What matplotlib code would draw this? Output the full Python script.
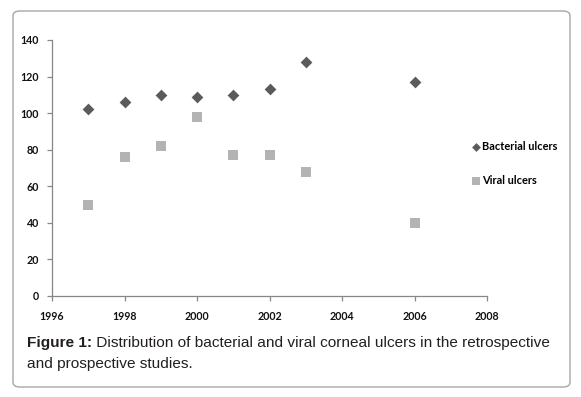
import matplotlib
matplotlib.use("Agg")
import matplotlib.pyplot as plt
from matplotlib.patches import FancyBboxPatch

years_bacterial = [1997, 1998, 1999, 2000, 2001, 2002, 2003, 2006]
bacterial = [102, 106, 110, 109, 110, 113, 128, 117]
years_viral = [1997, 1998, 1999, 2000, 2001, 2002, 2003, 2006]
viral = [50, 76, 82, 98, 77, 77, 68, 40]
x_ticks = [1996, 1998, 2000, 2002, 2004, 2006, 2008]
y_ticks = [0, 20, 40, 60, 80, 100, 120, 140]
caption_bold = "Figure 1:"
caption_rest = " Distribution of bacterial and viral corneal ulcers in the retrospective"
caption_line2 = "and prospective studies."

W, H = 581, 397
fig = plt.figure(figsize=(W / 100, H / 100), dpi=100)

# rounded frame
frame = FancyBboxPatch((13 / W, 10 / H), (570 - 13) / W, (386 - 10) / H,
                       boxstyle="round,pad=0,rounding_size=0.012",
                       transform=fig.transFigure, facecolor="none",
                       edgecolor="#a6a6a6", linewidth=1.0, zorder=-1)
fig.patches.append(frame)

ax = fig.add_axes([52 / W, 1 - 296 / H, (487 - 52) / W, (296 - 40) / H])
ax.set_facecolor("none")
ax.scatter(years_bacterial, bacterial, marker="D", s=36, color="#5b5b5b",
           label="Bacterial ulcers", zorder=3, linewidths=0)
ax.scatter(years_viral, viral, marker="s", s=62, color="#b3b3b3",
           label="Viral ulcers", zorder=3, linewidths=0)

ax.set_xlim(1996, 2008)
ax.set_ylim(0, 140)
ax.set_xticks(x_ticks)
ax.set_yticks(y_ticks)
for s in ["top", "right"]:
    ax.spines[s].set_visible(False)
for s in ["left", "bottom"]:
    ax.spines[s].set_color("#878787")
    ax.spines[s].set_linewidth(0.9)
ax.tick_params(axis="both", direction="out", length=3.5, width=0.9,
               color="#878787", labelsize=7.7, labelcolor="#111111")
ax.tick_params(axis="x", pad=7)
ax.tick_params(axis="y", pad=6)
for lab in ax.get_xticklabels() + ax.get_yticklabels():
    lab.set_fontfamily("Lato")
    lab.set_fontweight("bold")

leg = ax.legend(loc="upper left", bbox_to_anchor=(470 / W, 1 - 141 / H),
                bbox_transform=fig.transFigure, frameon=False,
                prop={"family": "Lato", "weight": "bold", "size": 7.9},
                handletextpad=0.0, handlelength=1.1, labelspacing=2.1,
                borderpad=0, borderaxespad=0, markerscale=0.75)

# caption
cap_y1 = 1 - 343 / H
cap_y2 = 1 - 364 / H
fs = 11.1
t1 = fig.text(27 / W, cap_y1, caption_bold, fontsize=fs, fontweight="bold",
              family="Liberation Sans", color="#231f20", va="center")
fig.canvas.draw()
bb = t1.get_window_extent(renderer=fig.canvas.get_renderer())
fig.text(bb.x1 / W, cap_y1, caption_rest, fontsize=fs,
         family="Liberation Sans", color="#231f20", va="center")
fig.text(27 / W, cap_y2, caption_line2, fontsize=fs,
         family="Liberation Sans", color="#231f20", va="center")

fig.savefig("out.png", dpi=100, facecolor="white")
